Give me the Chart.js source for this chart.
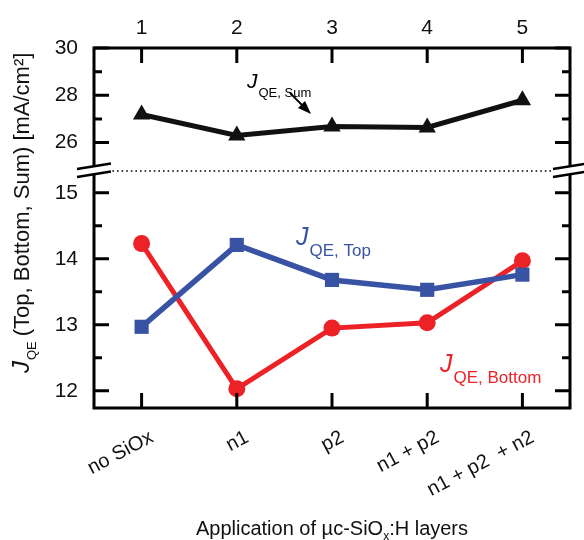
<!DOCTYPE html>
<html>
<head>
<meta charset="utf-8">
<script src="https://cdn.jsdelivr.net/npm/chart.js@4"></script>
<style>
  html, body { margin: 0; padding: 0; background: #fff; }
</style>
</head>
<body>
<canvas id="chart" width="584" height="540"></canvas>
<script>
// values
const categories = ['no SiOx', 'n1', 'p2', 'n1 + p2', 'n1 + p2  + n2'];
const sampleNumbers = ['1', '2', '3', '4', '5'];
const sumValues = [27.19, 26.3, 26.68, 26.64, 27.79];
const topValues = [12.97, 14.21, 13.68, 13.53, 13.76];
const bottomValues = [14.23, 12.03, 12.95, 13.03, 13.97];
const upperTicks = [26, 28, 30];
const lowerTicks = [12, 13, 14, 15];

const BLUE = '#3853a4';
const RED = '#ec2227';
const FONT = 'Liberation Sans, Arial, sans-serif';

// frame, inward ticks, axis break, labels
const decorations = {
  id: 'decorations',
  afterDraw(chart) {
    const { ctx, chartArea: a, scales } = chart;
    const yU = scales.yUpper, yL = scales.yLower, x = scales.x;
    const breakY = yU.bottom;
    ctx.save();

    // dotted line at the break
    ctx.strokeStyle = '#000';
    ctx.lineWidth = 1.6;
    ctx.setLineDash([1.6, 3]);
    ctx.beginPath();
    ctx.moveTo(a.left, breakY);
    ctx.lineTo(a.right, breakY);
    ctx.stroke();
    ctx.setLineDash([]);

    // frame
    ctx.lineWidth = 3;
    ctx.lineCap = 'square';
    ctx.strokeRect(a.left, a.top, a.right - a.left, a.bottom - a.top);

    // y ticks, both sides, pointing in
    ctx.lineCap = 'butt';
    const yTick = (scale, majors) => {
      scale.ticks.forEach(t => {
        if (t.value < majors[0]) return;
        const py = scale.getPixelForValue(t.value);
        const len = majors.includes(t.value) ? 15 : 8;
        ctx.beginPath();
        ctx.moveTo(a.left, py); ctx.lineTo(a.left + len, py);
        ctx.moveTo(a.right, py); ctx.lineTo(a.right - len, py);
        ctx.stroke();
      });
    };
    yTick(yU, upperTicks);
    yTick(yL, lowerTicks);

    // x ticks on top and bottom
    categories.forEach((c, i) => {
      const px = x.getPixelForValue(i);
      ctx.beginPath();
      ctx.moveTo(px, a.top); ctx.lineTo(px, a.top + 15);
      ctx.moveTo(px, a.bottom); ctx.lineTo(px, a.bottom - 15);
      ctx.stroke();
    });

    // rotated category labels
    ctx.fillStyle = '#111';
    ctx.font = `20px ${FONT}`;
    ctx.textAlign = 'right';
    ctx.textBaseline = 'alphabetic';
    categories.forEach((c, i) => {
      const px = x.getPixelForValue(i);
      ctx.save();
      ctx.translate(px + 13, a.bottom + 33);
      ctx.rotate(-28 * Math.PI / 180);
      ctx.fillText(c, 0, 0);
      ctx.restore();
    });
    ctx.textAlign = 'left';

    // break marks
    const breakMark = (cx) => {
      ctx.fillStyle = '#fff';
      ctx.beginPath();
      ctx.moveTo(cx - 17, breakY - 2);
      ctx.lineTo(cx + 17, breakY - 7.5);
      ctx.lineTo(cx + 17, breakY + 0.5);
      ctx.lineTo(cx - 17, breakY + 6);
      ctx.closePath();
      ctx.fill();
      ctx.lineWidth = 2.6;
      ctx.beginPath();
      ctx.moveTo(cx - 17, breakY - 2); ctx.lineTo(cx + 17, breakY - 7.5);
      ctx.moveTo(cx - 17, breakY + 6); ctx.lineTo(cx + 17, breakY + 0.5);
      ctx.stroke();
    };
    breakMark(a.left);
    breakMark(a.right);

    // labels with subscripts
    const label = (px, py, color, bigSize, subSize, sub) => {
      ctx.fillStyle = color;
      ctx.textBaseline = 'alphabetic';
      ctx.textAlign = 'left';
      ctx.font = `italic ${bigSize}px ${FONT}`;
      ctx.fillText('J', px, py);
      const w = ctx.measureText('J').width;
      ctx.font = `${subSize}px ${FONT}`;
      ctx.fillText(sub, px + w + 1, py + bigSize * 0.42);
    };
    label(247, 88, '#000', 21, 13, 'QE, Sum');
    label(296, 245, BLUE, 25, 17, 'QE, Top');
    label(440, 372, RED, 25, 17, 'QE, Bottom');

    // arrow to the sum curve
    ctx.strokeStyle = '#000';
    ctx.fillStyle = '#000';
    ctx.lineWidth = 1.8;
    ctx.beginPath();
    ctx.moveTo(290, 93); ctx.lineTo(304, 107);
    ctx.stroke();
    ctx.beginPath();
    ctx.moveTo(311, 114); ctx.lineTo(298, 108); ctx.lineTo(305, 101);
    ctx.closePath();
    ctx.fill();

    // y axis title
    ctx.save();
    ctx.translate(29, 373);
    ctx.rotate(-Math.PI / 2);
    ctx.fillStyle = '#111';
    ctx.font = `italic 24px ${FONT}`;
    ctx.fillText('J', 0, 0);
    let w = ctx.measureText('J').width + 1;
    ctx.font = `13px ${FONT}`;
    ctx.fillText('QE', w, 7);
    w += ctx.measureText('QE').width + 5;
    ctx.font = `22px ${FONT}`;
    ctx.fillText('(Top, Bottom, Sum) [mA/cm\u00b2]', w, 0);
    ctx.restore();

    // x axis title
    ctx.fillStyle = '#111';
    const t1 = 'Application of \u00b5c-SiO', t2 = ':H layers';
    ctx.font = `20px ${FONT}`;
    const w1 = ctx.measureText(t1).width, w2 = ctx.measureText(t2).width;
    ctx.font = `12px ${FONT}`;
    const ws = ctx.measureText('x').width;
    const sx = (a.left + a.right) / 2 - (w1 + ws + w2) / 2;
    ctx.font = `20px ${FONT}`;
    ctx.fillText(t1, sx, 535);
    ctx.font = `12px ${FONT}`;
    ctx.fillText('x', sx + w1, 540);
    ctx.font = `20px ${FONT}`;
    ctx.fillText(t2, sx + w1 + ws, 535);

    ctx.restore();
  }
};

new Chart(document.getElementById('chart'), {
  type: 'line',
  data: {
    labels: categories,
    datasets: [
      {
        label: 'Sum',
        data: sumValues,
        yAxisID: 'yUpper',
        borderColor: '#111',
        backgroundColor: '#111',
        borderWidth: 5,
        pointStyle: 'triangle',
        pointRadius: 10,
        pointBorderWidth: 0
      },
      {
        label: 'Top',
        data: topValues,
        yAxisID: 'yLower',
        borderColor: BLUE,
        backgroundColor: BLUE,
        borderWidth: 5.5,
        pointStyle: 'rect',
        pointRadius: 10,
        pointBorderWidth: 0
      },
      {
        label: 'Bottom',
        data: bottomValues,
        yAxisID: 'yLower',
        borderColor: RED,
        backgroundColor: RED,
        borderWidth: 5,
        pointStyle: 'circle',
        pointRadius: 8.5,
        pointBorderWidth: 0
      }
    ]
  },
  options: {
    responsive: false,
    animation: false,
    devicePixelRatio: 1,
    layout: { padding: { left: 0, right: 14, top: 0, bottom: 0 } },
    plugins: { legend: { display: false }, tooltip: { enabled: false } },
    scales: {
      x: {
        type: 'category',
        position: 'bottom',
        offset: true,
        grid: { display: false },
        border: { display: false },
        ticks: { display: false },
        afterFit: s => { s.height = 132; }
      },
      xTop: {
        type: 'category',
        position: 'top',
        labels: sampleNumbers,
        offset: true,
        grid: { display: false },
        border: { display: false },
        ticks: { color: '#111', font: { family: FONT, size: 21 }, padding: -1, maxRotation: 0 },
        afterFit: s => { s.height = 48; }
      },
      yLower: {
        type: 'linear',
        position: 'left',
        stack: 'y',
        stackWeight: 237,
        min: 11.74,
        max: 15.33,
        grid: { display: false },
        border: { display: false },
        ticks: {
          stepSize: 0.5,
          autoSkip: false,
          includeBounds: false,
          color: '#111',
          font: { family: FONT, size: 21 },
          padding: 8,
          callback: v => lowerTicks.includes(v) ? String(v) : ''
        },
        afterFit: s => { s.width = 94; }
      },
      yUpper: {
        type: 'linear',
        position: 'left',
        stack: 'y',
        stackWeight: 123,
        min: 24.8,
        max: 30,
        grid: { display: false },
        border: { display: false },
        ticks: {
          stepSize: 1,
          autoSkip: false,
          includeBounds: false,
          color: '#111',
          font: { family: FONT, size: 21 },
          padding: 8,
          callback: v => upperTicks.includes(v) ? String(v) : ''
        },
        afterFit: s => { s.width = 94; }
      }
    }
  },
  plugins: [decorations]
});
</script>
</body>
</html>
